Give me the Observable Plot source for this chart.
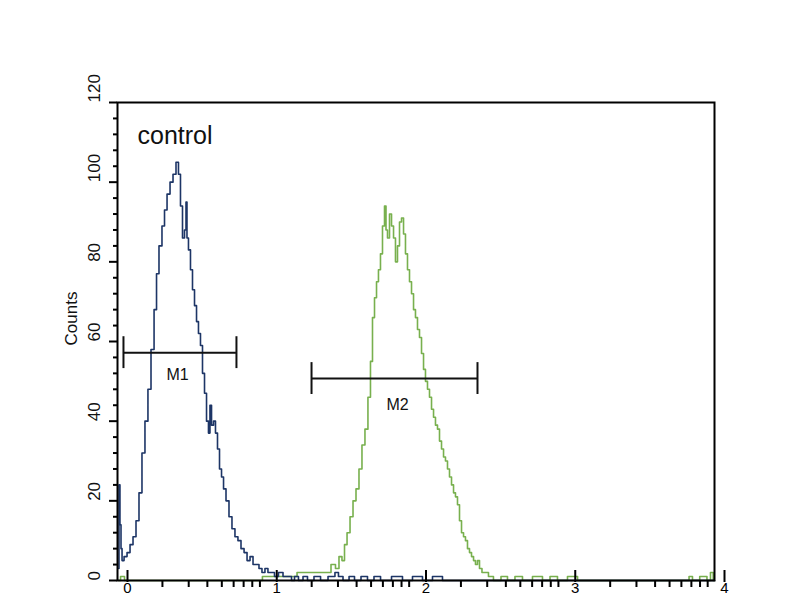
<!DOCTYPE html>
<html><head><meta charset="utf-8">
<script src="https://cdn.jsdelivr.net/npm/d3@7"></script>
<script src="https://cdn.jsdelivr.net/npm/@observablehq/plot@0.6"></script>
<style>html,body{margin:0;padding:0;background:#fff;overflow:hidden}#chart svg{display:block}</style>
</head><body><div id="chart"></div>
<script>
// Control histogram (log10 fluorescence, counts)
const controlLog = [0.007,0.013,0.020,0.027,0.034,0.054,0.074,0.094,0.114,0.134,0.154,0.174,0.194,0.214,0.235,0.255,0.268,0.288,0.308,0.322,0.342,0.362,0.382,0.402,0.415,0.429,0.442,0.456,0.462,0.469,0.482,0.496,0.509,0.523,0.536,0.549,0.563,0.576,0.590,0.603,0.616,0.623,0.637,0.650,0.663,0.677,0.690,0.704,0.717,0.737,0.757,0.777,0.797,0.817,0.838,0.858,0.878,0.898,0.918,0.938,0.958,0.978,0.998,1.018,1.039,1.065,1.092,1.126,1.159,1.173,1.199,1.226,1.260,1.286,1.347,1.374,1.447,1.467,1.494,1.528,1.575,1.601,1.662,1.688,1.749,1.776,1.896,1.923,2.030,2.057,2.164,2.191,4.000];
const controlCounts = [3,24,14,8,5,6,7,9,11,15,22,32,40,48,58,68,77,84,89,93,97,100,102,105,102,94,86,88,95,86,83,78,73,69,65,62,59,52,47,40,37,44,39,40,37,33,28,26,23,20,16,13,11,10,8,7,5,6,4,4,3,2,3,2,2,1,2,1,1,0,1,0,1,0,1,0,1,2,1,0,1,0,1,0,1,0,1,0,1,0,1,0,0];
// Sample histogram
const sampleLog = [0.007,0.034,0.060,0.950,0.992,1.414,1.447,1.474,1.494,1.514,1.528,1.548,1.568,1.588,1.608,1.628,1.648,1.668,1.688,1.702,1.715,1.729,1.742,1.755,1.769,1.782,1.796,1.802,1.816,1.829,1.843,1.856,1.869,1.883,1.896,1.910,1.923,1.936,1.950,1.963,1.977,1.990,2.003,2.017,2.030,2.044,2.057,2.070,2.084,2.097,2.111,2.124,2.137,2.151,2.164,2.178,2.191,2.204,2.218,2.231,2.245,2.258,2.271,2.285,2.298,2.312,2.325,2.338,2.352,2.365,2.379,2.392,2.405,2.419,2.432,2.452,2.472,2.499,2.539,2.600,2.626,2.700,2.727,2.834,2.861,2.935,2.961,3.069,3.096,3.820,3.839,3.866,3.936,3.963,3.983,4.000];
const sampleCounts = [0,1,0,0,1,2,4,3,6,5,9,12,16,20,23,28,34,38,46,55,66,71,75,78,82,89,94,88,86,92,89,86,80,84,90,91,87,82,78,75,72,68,66,63,61,57,53,50,48,46,43,41,39,38,35,33,31,30,28,26,24,22,21,19,15,12,11,10,8,7,6,5,4,5,3,2,2,1,0,1,0,1,0,1,0,1,0,1,0,0,1,0,1,0,2,0];
// Gates
const gateNames = ["M1","M2"];
const gateStartLog = [0.040, 1.300];
const gateEndLog = [0.797, 2.412];
const gateLevel = [57.2, 50.7];
const gateLabelLog = [0.402, 1.876];
const gateLabelCount = [51.5, 44.2];
// Axes
const decadeTicks = [1,10,100,1000,10000];
const minorDecadeTicks = [2,3,4,5,6,7,8,9,20,30,40,50,60,70,80,90,200,300,400,500,600,700,800,900,2000,3000,4000,5000,6000,7000,8000,9000];
const countTicks = [0,20,40,60,80,100,120];
const minorCountTicks = [4,8,12,16,24,28,32,36,44,48,52,56,64,68,72,76,84,88,92,96,104,108,112,116];
const panelLabel = "control";

const control = controlLog.map((d,i)=>({x:10**d, y:controlCounts[i]}));
const sample = sampleLog.map((d,i)=>({x:10**d, y:sampleCounts[i]}));
const gates = gateNames.map((n,i)=>({name:n, x1:10**gateStartLog[i], x2:10**gateEndLog[i], y:gateLevel[i], lx:10**gateLabelLog[i], ly:gateLabelCount[i]}));
const caps = gates.flatMap(g=>[{x:g.x1,y:g.y},{x:g.x2,y:g.y}]);

const chart = Plot.plot({
  width: 800, height: 600,
  marginLeft: 117, marginRight: 86, marginTop: 102, marginBottom: 20,
  style: {fontFamily: "'Liberation Sans', Arial, sans-serif", background: "#fff", color: "#000"},
  x: {type: "log", domain: [1, 10000], axis: null},
  y: {domain: [0, 120], axis: null},
  marks: [
    Plot.line(sample, {x:"x", y:"y", curve:"step", stroke:"#78b04e", strokeWidth:1.6}),
    Plot.line(control, {x:"x", y:"y", curve:"step", stroke:"#1d3566", strokeWidth:1.6}),
    Plot.ruleY(gates, {y:"y", x1:"x1", x2:"x2", stroke:"#111", strokeWidth:2}),
    Plot.ruleX(caps, {x:"x", y1: d=>d.y-4, y2: d=>d.y+4, stroke:"#111", strokeWidth:2}),
    Plot.text(gates, {x:"lx", y:"ly", text:"name", fontSize:16, fill:"#111"}),
    Plot.text([panelLabel], {x:()=>10**0.134, y:()=>111.5, text:d=>d, textAnchor:"start", fontSize:25, fill:"#111"}),
    Plot.frame({stroke:"#000", strokeWidth:2}),
    Plot.axisX({ticks: minorDecadeTicks, tickSize: 7, tickFormat: ()=>"", strokeWidth: 2, label: null}),
    Plot.axisX({ticks: decadeTicks, tickSize: 12, tickPadding: 0, dy: -10, dx: 10, strokeWidth: 2, fontSize: 15, label: null,
      tickFormat: d=>String(Math.round(Math.log10(d)))}),
    Plot.axisY({ticks: minorCountTicks, tickSize: 4, tickFormat: ()=>"", strokeWidth: 2, label: null}),
    Plot.axisY({ticks: countTicks, tickSize: 8, tickFormat: ()=>"", strokeWidth: 2, label: null}),
    Plot.text(countTicks, {y: d=>d, frameAnchor: "left", dx: -23, rotate: -90, text: d=>String(d), fontSize: 17, fill:"#111"}),
    Plot.text(["Counts"], {y: ()=>59, frameAnchor: "left", dx: -46, rotate: -90, text: d=>d, fontSize: 17, fill:"#111"})
  ]
});
document.getElementById("chart").appendChild(chart);
</script>
</body></html>
